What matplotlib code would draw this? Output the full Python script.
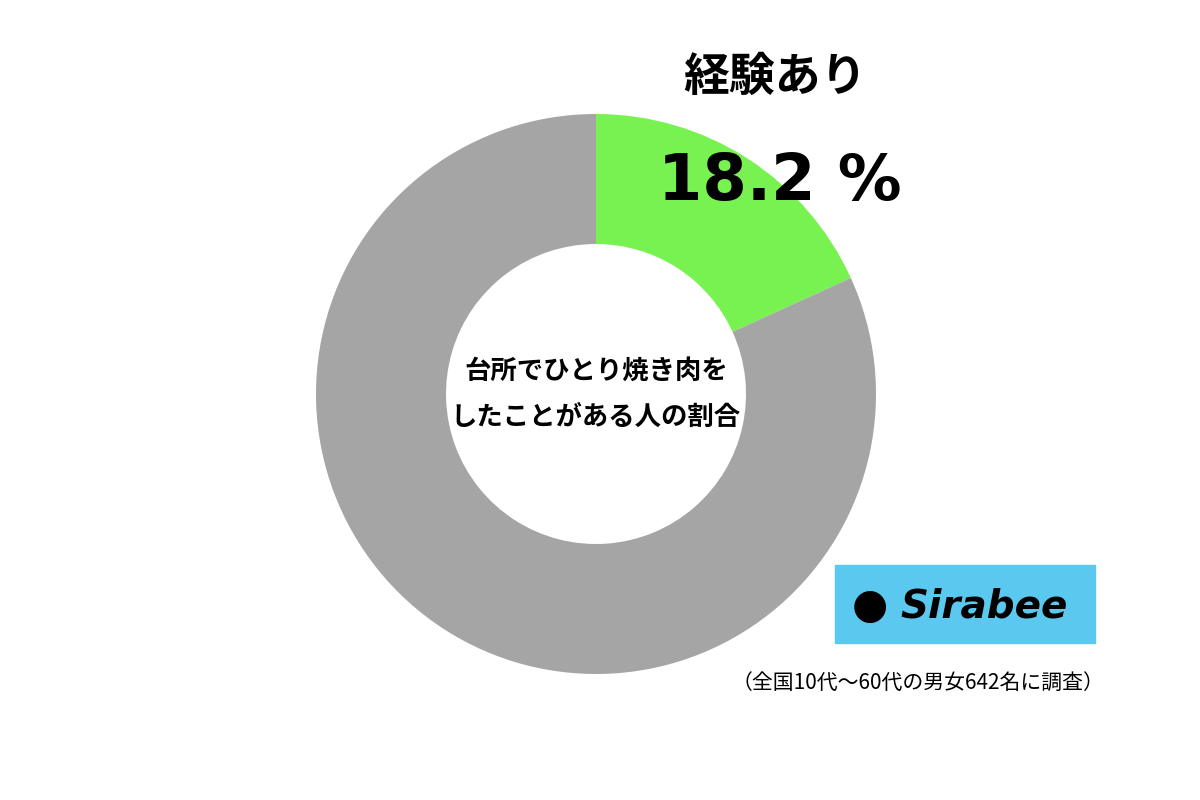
import matplotlib
matplotlib.use("Agg")
import matplotlib.pyplot as plt
from matplotlib.patches import Rectangle

plt.rcParams['font.family'] = ['Noto Sans CJK JP', 'DejaVu Sans']

labels = ["経験あり", "経験なし"]
values = [18.2, 81.8]
colors = ["#77f250", "#a5a5a5"]

fig = plt.figure(figsize=(12, 8), dpi=100)

pax = fig.add_axes([(596-280)/1200, (800-394-280)/800, 560/1200, 560/800])
pax.pie(values, colors=colors, startangle=90, counterclock=False, radius=1,
        wedgeprops=dict(width=130/280, edgecolor="none"))
pax.set_xlim(-1, 1)
pax.set_ylim(-1, 1)
pax.set_aspect("equal")
pax.axis("off")

ax = fig.add_axes([0, 0, 1, 1], zorder=5)
ax.patch.set_alpha(0)
ax.set_xlim(0, 1200)
ax.set_ylim(800, 0)
ax.axis("off")

ax.text(596, 394, "台所でひとり焼き肉を\nしたことがある人の割合", ha="center", va="center",
        fontsize=19, fontweight="bold", linespacing=1.9)
ax.text(775, 78, labels[0], ha="center", va="center", fontsize=33, fontweight="bold")
ax.text(780, 182, f"{values[0]} %", ha="center", va="center", fontsize=46, fontweight="bold",
        family=["DejaVu Sans"])

ax.add_patch(Rectangle((835, 565), 260, 78, color="#5bc8f0"))
ax.text(900, 606, "Sirabee", ha="left", va="center", fontsize=28, fontweight="bold",
        style="italic", family=["DejaVu Sans"])
ax.text(870, 606, "●", ha="center", va="center", fontsize=30, color="black", family=["DejaVu Sans"])
ax.text(918, 683, "（全国10代〜60代の男女642名に調査）", ha="center", va="center", fontsize=15)

fig.savefig("out.png", dpi=100)
